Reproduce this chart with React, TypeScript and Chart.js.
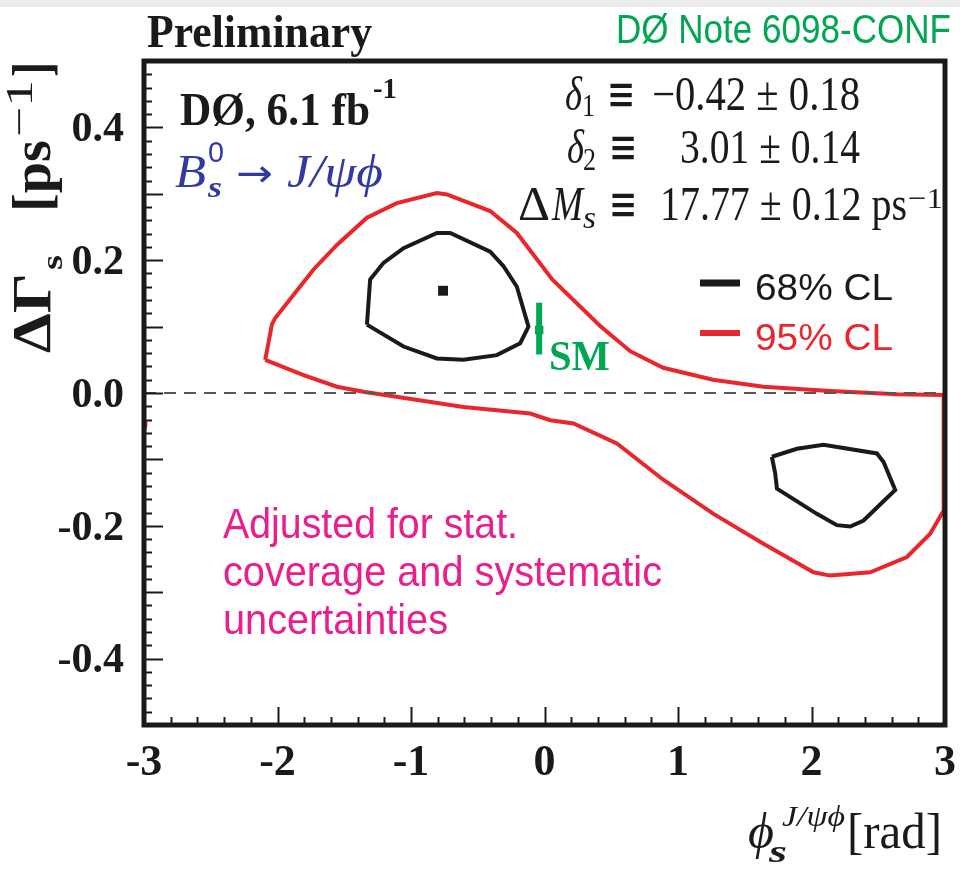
import React, { useEffect, useRef } from "react";
import { Chart, registerables } from "chart.js";

Chart.register(...registerables);

// ---- data: phi_s (rad) vs DeltaGamma_s (ps^-1) ----
// 95% CL contour vertices (one closed loop)
const cl95Phi = [
  -2.092, -2.042, -2.017, -1.73, -1.555, -1.33, -1.106, -0.806, -0.731, -0.407, -0.207, 0.058, 0.417,
  0.642, 0.889, 1.262, 1.64, 2.14, 2.64, 2.99, 2.99, 2.889, 2.715, 2.44, 2.14, 2.015, 1.64, 1.266,
  0.892, 0.542, 0.217, 0.043, -0.107, -0.607, -1.356, -1.555, -1.805, -2.092,
];
const cl95DGamma = [
  0.05, 0.103, 0.113, 0.186, 0.223, 0.264, 0.286, 0.301, 0.299, 0.274, 0.241, 0.171, 0.101,
  0.063, 0.038, 0.02, 0.0095, 0.003, -0.002, -0.003, -0.177, -0.212, -0.247, -0.27, -0.275, -0.27,
  -0.227, -0.182, -0.131, -0.076, -0.046, -0.041, -0.031, -0.021, 0.002, 0.0095, 0.027, 0.05,
];
// small 95% CL piece wrapping in at phi = -pi
const cl95EdgePhi = [-3.0, -2.985, -2.982, -2.99, -3.0];
const cl95EdgeDGamma = [-0.04, -0.044, -0.05, -0.055, -0.058];

// 68% CL contour around the best fit
const cl68aPhi = [
  -1.33, -1.306, -1.206, -1.056, -0.806, -0.706, -0.407, -0.307, -0.207, -0.12, -0.182, -0.357,
  -0.607, -0.806, -1.056, -1.33,
];
const cl68aDGamma = [
  0.103, 0.171, 0.196, 0.218, 0.241, 0.241, 0.213, 0.191, 0.16, 0.1, 0.075, 0.057, 0.05, 0.052,
  0.07, 0.103,
];
// 68% CL mirror solution
const cl68bPhi = [1.703, 1.891, 2.09, 2.49, 2.54, 2.627, 2.39, 2.29, 2.19, 2.04, 1.741, 1.728, 1.703];
const cl68bDGamma = [
  -0.096, -0.084, -0.078, -0.091, -0.104, -0.146, -0.192, -0.201, -0.199, -0.182, -0.144, -0.121,
  -0.096,
];

// best fit point
const bestPhi = [-0.76];
const bestDGamma = [0.154];

// Standard Model expectation
const smPhi = [-0.04];
const smDGamma = [0.095];
const smDGammaLow = [0.058];
const smDGammaHigh = [0.136];

// axes
const xTickLabels = [-3, -2, -1, 0, 1, 2, 3];
const yTickLabels = [-0.4, -0.2, 0.0, 0.2, 0.4];
const xMinorStep = 0.2;
const yMinorStep = 0.02;

const seriesLabels = ["68% CL", "95% CL"];

const RED = "#e8262b";
const BLACK = "#1a1a1a";
const GREEN = "#00a651";
const MAGENTA = "#ea1f8d";
const BLUE = "#3239a0";
const SERIF = '"Liberation Serif", "Times New Roman", serif';
const SANS = '"Liberation Sans", Arial, sans-serif';
const SYMBOL = '"DejaVu Sans", sans-serif';

const zip = (xs: number[], ys: number[]) => xs.map((x, i) => ({ x, y: ys[i] }));

function txt(
  ctx: CanvasRenderingContext2D,
  text: string,
  x: number,
  y: number,
  font: string,
  color: string,
  width?: number,
  align: "left" | "right" = "left",
  sy = 1
) {
  ctx.save();
  ctx.font = font;
  ctx.fillStyle = color;
  ctx.textBaseline = "alphabetic";
  ctx.textAlign = "left";
  const w = ctx.measureText(text).width;
  const sx = width ? width / w : 1;
  const x0 = align === "right" ? x - w * sx : x;
  ctx.translate(x0, y);
  ctx.scale(sx, sy);
  ctx.fillText(text, 0, 0);
  ctx.restore();
}

const decorPlugin = {
  id: "decor",
  beforeDraw(chart: any) {
    const ctx: CanvasRenderingContext2D = chart.ctx;
    ctx.save();
    ctx.fillStyle = "#ffffff";
    ctx.fillRect(0, 0, chart.width, chart.height);
    ctx.fillStyle = "#ebebeb";
    ctx.fillRect(0, 0, chart.width, 7);
    ctx.restore();
  },
  afterDraw(chart: any) {
    const ctx: CanvasRenderingContext2D = chart.ctx;
    const { left, right, top, bottom } = chart.chartArea;
    const xs = chart.scales.x;
    const ys = chart.scales.y;

    // inward tick marks
    ctx.save();
    ctx.strokeStyle = BLACK;
    ctx.lineWidth = 2;
    ctx.beginPath();
    const nY = Math.round((ys.max - ys.min) / yMinorStep);
    for (let i = 1; i < nY; i++) {
      const v = ys.min + i * yMinorStep;
      const py = Math.round(ys.getPixelForValue(v)) + 0.5;
      const major = Math.abs(v * 10 - Math.round(v * 10)) < 1e-6;
      ctx.moveTo(left, py);
      ctx.lineTo(left + (major ? 19 : 8), py);
    }
    const nX = Math.round((xs.max - xs.min) / xMinorStep);
    for (let i = 1; i < nX; i++) {
      const v = xs.min + i * xMinorStep;
      const px = Math.round(xs.getPixelForValue(v)) + 0.5;
      const major = Math.abs(v - Math.round(v)) < 1e-6;
      ctx.moveTo(px, bottom);
      ctx.lineTo(px, bottom - (major ? 18 : 8));
    }
    ctx.stroke();

    // frame
    ctx.lineWidth = 5;
    ctx.strokeRect(left, top, right - left, bottom - top);
    ctx.restore();

    // header texts
    txt(ctx, "Preliminary", 147, 47, `bold 46px ${SERIF}`, BLACK, 225);
    txt(ctx, "DØ Note 6098-CONF", 951, 43, `40px ${SANS}`, GREEN, 335, "right");

    // experiment label
    txt(ctx, "DØ, 6.1 fb", 180, 125, `bold 47px ${SERIF}`, BLACK, 190);
    txt(ctx, "-1", 373, 98, `bold 30px ${SERIF}`, BLACK, 24);

    // decay channel
    txt(ctx, "B", 175, 187, `italic 46px ${SERIF}`, BLUE, 31);
    txt(ctx, "0", 208, 162, `30px ${SANS}`, BLUE, 16);
    txt(ctx, "s", 208, 197, `bold italic 30px ${SERIF}`, BLUE, 14);
    txt(ctx, "→", 236, 186, `38px ${SYMBOL}`, BLUE, 37);
    txt(ctx, "J/ψϕ", 287, 187, `italic 46px ${SERIF}`, BLUE, 96);

    // fit constraints
    const F = `48px ${SERIF}`;
    const FI = `italic 48px ${SERIF}`;
    const EQ = `34px ${SYMBOL}`;
    txt(ctx, "δ", 565, 110, FI, BLACK, 17);
    txt(ctx, "1", 582, 116, `32px ${SERIF}`, BLACK, 13);
    txt(ctx, "≡", 607, 111, EQ, BLACK, undefined, "left", 1.5);
    txt(ctx, "−0.42 ± 0.18", 652, 110, F, BLACK, 208);
    txt(ctx, "δ", 567, 163, FI, BLACK, 17);
    txt(ctx, "2", 583, 170, `32px ${SERIF}`, BLACK, 13);
    txt(ctx, "≡", 609, 164, EQ, BLACK, undefined, "left", 1.5);
    txt(ctx, "3.01 ± 0.14", 680, 163, F, BLACK, 180);
    txt(ctx, "Δ", 518, 220, F, BLACK, 32);
    txt(ctx, "M", 552, 220, FI, BLACK, 31);
    txt(ctx, "s", 583, 228, `italic 32px ${SERIF}`, BLACK, 13);
    txt(ctx, "≡", 609, 221, EQ, BLACK, undefined, "left", 1.5);
    txt(ctx, "17.77 ± 0.12 ps", 660, 220, F, BLACK, 247);
    txt(ctx, "−1", 908, 208, `30px ${SERIF}`, BLACK, 35);

    // legend (from dataset labels)
    const legend = [
      { label: seriesLabels[0], color: BLACK, w: 7, y: 283 },
      { label: seriesLabels[1], color: RED, w: 6, y: 333 },
    ];
    for (const l of legend) {
      ctx.save();
      ctx.strokeStyle = l.color;
      ctx.lineWidth = l.w;
      ctx.beginPath();
      ctx.moveTo(700, l.y);
      ctx.lineTo(740, l.y);
      ctx.stroke();
      ctx.restore();
      txt(ctx, l.label, 755, l.y + 17, `36px ${SANS}`, l.color, 138);
    }

    // SM label
    txt(ctx, "SM", 549, 370, `bold 42px ${SERIF}`, GREEN, 61);

    // note
    const NF = `42px ${SANS}`;
    txt(ctx, "Adjusted for stat.", 223, 538, NF, MAGENTA, 295);
    txt(ctx, "coverage and systematic", 223, 586, NF, MAGENTA, 439);
    txt(ctx, "uncertainties", 223, 634, NF, MAGENTA, 225);

    // x axis title
    txt(ctx, "ϕ", 748, 848, `italic 50px ${SERIF}`, BLACK, 26);
    txt(ctx, "s", 769, 862, `bold italic 32px ${SERIF}`, BLACK, 18);
    txt(ctx, "J/ψϕ", 782, 826, `italic 30px ${SERIF}`, BLACK, 63);
    txt(ctx, "[rad]", 847, 848, `50px ${SERIF}`, BLACK, 95);

    // y axis title (rotated)
    ctx.save();
    ctx.translate(50, 353);
    ctx.rotate(-Math.PI / 2);
    txt(ctx, "ΔΓ", 0, 0, `bold 54px ${SERIF}`, BLACK, 80);
    txt(ctx, "s", 83, 12, `bold 30px ${SERIF}`, BLACK, 15);
    txt(ctx, "[ps", 141, 0, `bold 54px ${SERIF}`, BLACK, 72);
    txt(ctx, "−1", 216, -18, `38px ${SERIF}`, BLACK, 57);
    txt(ctx, "]", 276, 0, `bold 54px ${SERIF}`, BLACK, 15);
    ctx.restore();
  },
};

export default function App() {
  const ref = useRef<HTMLCanvasElement | null>(null);

  useEffect(() => {
    if (!ref.current) return;
    const line = (data: any[], color: string, width: number, label: string, extra: any = {}) => ({
      label,
      data,
      showLine: true,
      borderColor: color,
      borderWidth: width,
      pointRadius: 0,
      tension: 0,
      fill: false,
      ...extra,
    });
    const chart = new Chart(ref.current, {
      type: "scatter",
      data: {
        datasets: [
          {
            label: "SM",
            data: zip(smPhi, smDGamma),
            pointStyle: "rect",
            pointRadius: 6,
            backgroundColor: GREEN,
            borderWidth: 0,
            showLine: false,
          },
          line(
            [
              { x: smPhi[0], y: smDGammaLow[0] },
              { x: smPhi[0], y: smDGammaHigh[0] },
            ],
            GREEN,
            6,
            "SM range",
            { borderCapStyle: "butt" }
          ),
          {
            label: "Best fit",
            data: zip(bestPhi, bestDGamma),
            pointStyle: "rect",
            pointRadius: 7,
            backgroundColor: BLACK,
            borderWidth: 0,
            showLine: false,
          },
          line(
            [
              { x: -3, y: 0 },
              { x: 3, y: 0 },
            ],
            "#555555",
            2,
            "zero",
            { borderDash: [12, 8] }
          ),
          line(zip(cl68aPhi, cl68aDGamma), BLACK, 4, seriesLabels[0]),
          line(zip(cl68bPhi, cl68bDGamma), BLACK, 4, seriesLabels[0]),
          line(zip(cl95Phi, cl95DGamma), RED, 4, seriesLabels[1]),
          line(zip(cl95EdgePhi, cl95EdgeDGamma), RED, 2, seriesLabels[1]),
        ],
      },
      options: {
        animation: false,
        responsive: false,
        devicePixelRatio: 1,
        layout: { padding: { top: 61, right: 15, left: 0, bottom: 0 } },
        plugins: { legend: { display: false }, tooltip: { enabled: false } },
        scales: {
          x: {
            type: "linear",
            min: -3,
            max: 3,
            grid: { display: false, drawTicks: false },
            border: { display: false },
            afterBuildTicks: (s: any) => {
              s.ticks = xTickLabels.map((v) => ({ value: v }));
            },
            afterFit: (s: any) => {
              s.height = 147;
              s.paddingLeft = 0;
              s.paddingRight = 0;
            },
            ticks: {
              autoSkip: false,
              maxRotation: 0,
              padding: 12,
              color: BLACK,
              font: { family: SERIF, weight: "bold", size: 44 },
              callback: (v: any) => String(v),
            },
          },
          y: {
            type: "linear",
            min: -0.5,
            max: 0.5,
            grid: { display: false, drawTicks: false },
            border: { display: false },
            afterBuildTicks: (s: any) => {
              s.ticks = yTickLabels.map((v) => ({ value: v }));
            },
            afterFit: (s: any) => {
              s.width = 144;
              s.paddingTop = 0;
              s.paddingBottom = 0;
            },
            ticks: {
              autoSkip: false,
              padding: 20,
              labelOffset: 3,
              color: BLACK,
              font: { family: SERIF, weight: "bold", size: 42 },
              callback: (v: any) => Number(v).toFixed(1),
            },
          },
        },
      },
      plugins: [decorPlugin],
    } as any);
    return () => chart.destroy();
  }, []);

  return (
    <div style={{ position: "absolute", left: 0, top: 0, width: 960, height: 872, background: "#fff" }}>
      <canvas ref={ref} width={960} height={872} style={{ display: "block", width: 960, height: 872 }} />
    </div>
  );
}
